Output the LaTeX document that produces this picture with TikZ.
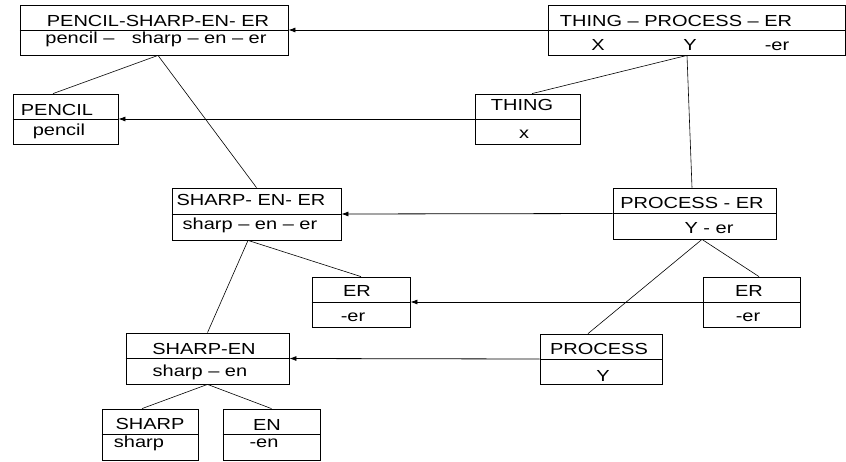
\documentclass[tikz,border=0pt]{standalone}
\usepackage{fontspec}
\setmainfont{Liberation Sans}[FakeStretch=1.25]
\usetikzlibrary{arrows.meta}

\begin{document}
\begin{tikzpicture}[
  x=1pt, y=-1pt,
  font=\fontsize{16}{19}\selectfont,
  wordbox/.style={
    draw, line width=0.8pt, inner sep=0pt
  },
  word/.style={anchor=base, inner sep=0pt},
  link/.style={-{Latex[length=7pt, width=5pt]}, line width=0.8pt},
  branch/.style={line width=0.6pt}
]
\useasboundingbox (0,0) rectangle (846,461);

% ============================================================
% Boxes: name / centre x / centre y / width / height
% ============================================================
\foreach \name/\cx/\cy/\w/\h in {
  psee/154/30/268/50, tpe/696.5/30/297/50,
  pencil/65.5/119/105/50, thing/527.5/119/105/50,
  see/256.5/214/169/52, pe/694.5/213.5/163/51,
  erl/361/302/98/50, err/751.5/302/97/50,
  sharpen/207.5/358.5/163/51, process/601/359/122/50,
  sharp/150/434.5/96/51, en/271.5/434.5/97/51} {
  \node[wordbox, minimum width=\w, minimum height=\h] (\name) at (\cx,\cy) {};
  \draw[line width=0.8pt] (\name.west) -- (\name.east);
}

% ============================================================
% Texts of the upper and lower cells
% ============================================================
\node[word] (psee-t) at (158,26.5) {PENCIL-SHARP-EN- ER};
\node[word] (psee-b) at (156,43) {pencil –\hspace{12pt} sharp – en – er};

\node[word] (tpe-t) at (676,26.5) {THING – PROCESS – ER};
\node[word] (tpe-x) at (598,50) {X};
\node[word] (tpe-y) at (690,50) {Y};
\node[word] (tpe-er) at (777,50) {-er};

\node[word] (pencil-t) at (57,115) {PENCIL};
\node[word] (pencil-b) at (59,135) {pencil};

\node[word] (thing-t) at (522,110) {THING};
\node[word] (thing-b) at (524,138) {x};

\node[word] (see-t) at (251,205.7) {SHARP- EN- ER};
\node[word] (see-b) at (250,229.3) {sharp – en – er};

\node[word] (pe-t) at (692,208.3) {PROCESS - ER};
\node[word] (pe-b) at (709,233) {Y - er};

\node[word] (erl-t) at (357,296.7) {ER};
\node[word] (erl-b) at (353,321.7) {-er};

\node[word] (err-t) at (749,296.7) {ER};
\node[word] (err-b) at (748,321.7) {-er};

\node[word] (sharpen-t) at (204,354) {SHARP-EN};
\node[word] (sharpen-b) at (200,376.7) {sharp – en};

\node[word] (process-t) at (599,354) {PROCESS};
\node[word] (process-b) at (603,381.7) {Y};

\node[word] (sharp-t) at (150,429) {SHARP};
\node[word] (sharp-b) at (139,447.7) {sharp};

\node[word] (en-t) at (267,430) {EN};
\node[word] (en-b) at (264,447.7) {-en};

% ============================================================
% Correspondence arrows (right tree -> left tree)
% ============================================================
\draw[link] (tpe.west) -- (psee.east);
\draw[link] (thing.west) -- (pencil.east);
\draw[link] (pe.west) -- (see.east);
\draw[link] (err.west) -- (erl.east);
\draw[link] (process.west) -- (sharpen.east);

% ============================================================
% Tree branches
% ============================================================
\draw[branch] ([xshift=4pt]psee.south) -- ([xshift=-12.5pt]pencil.north);
\draw[branch] ([xshift=4pt]psee.south) -- (see.north);
\draw[branch] ([xshift=-9.5pt]tpe.south) -- ([xshift=4.5pt]thing.north);
\draw[branch] ([xshift=-9.5pt]tpe.south) -- ([xshift=-2.5pt]pe.north);
\draw[branch] ([xshift=-8.5pt]see.south) -- (erl.north);
\draw[branch] ([xshift=-8.5pt]see.south) -- (sharpen.north);
\draw[branch] ([xshift=7.5pt]pe.south) -- ([xshift=7.5pt]err.north);
\draw[branch] ([xshift=7.5pt]pe.south) -- ([xshift=-13pt]process.north);
\draw[branch] (sharpen.south) -- ([xshift=-8pt]sharp.north);
\draw[branch] (sharpen.south) -- (en.north);

\end{tikzpicture}
\end{document}
